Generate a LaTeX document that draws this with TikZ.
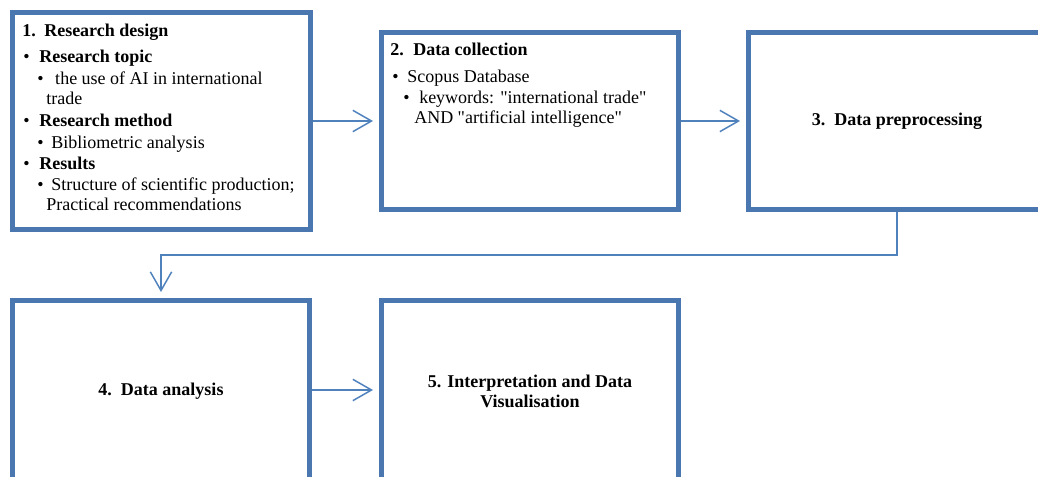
\documentclass[tikz,border=0pt]{standalone}
\usepackage{fontspec}
\setmainfont{Liberation Serif}[Ligatures=TeXOff]
\usetikzlibrary{arrows.meta}
\definecolor{boxblue}{RGB}{74,119,176}
\definecolor{linkblue}{RGB}{79,129,189}
\newdimen\px \px=0.75pt
\newcommand{\bul}[1]{\makebox[#1\px][l]{\textbullet}}

\begin{document}
\begin{tikzpicture}[x=0.75pt, y=-0.75pt,
  >={Straight Barb[length=14pt,width=16pt]},
  box/.style={draw=boxblue, line width=3.75pt, fill=white, minimum width=222.75pt,
    minimum height=132.75pt, inner sep=0pt, align=center,
    font=\bfseries\fontsize{13.5}{14.5}\selectfont},
  link/.style={->, linkblue, line width=1.1pt, shorten >=4.5pt},
  txt/.style={anchor=north west, inner sep=0pt, align=left,
    font=\fontsize{13.5}{16}\selectfont}]
\useasboundingbox (0,0) rectangle (1038,477);
% top row
\node[box, minimum width=223.5pt, minimum height=162.75pt] (design) at (161.5,121) {};
\node[box] (collect) at (530,121) {};
\node[box] (prep) at (897,121) {3.\ \ Data preprocessing};
% bottom row (runs past the lower edge)
\node[box, minimum height=136.5pt] (analysis) at (161,391.5) {4.\ \ Data analysis};
\node[box, minimum height=136.5pt] (interp) at (530,391.5) {5. Interpretation and Data\\Visualisation};
% box texts
\node[txt] (designtxt) at (22,24) {\makebox[22\px][l]{\textbf{1.}}\textbf{Research design}\\[3.5pt]
  \hspace*{1\px}\bul{16}\textbf{Research topic}\\
  \hspace*{15\px}\bul{18}the use of AI in international\\[-1pt]
  \hspace*{24\px}trade\\[1pt]
  \hspace*{1\px}\bul{16}\textbf{Research method}\\
  \hspace*{15\px}\bul{14}Bibliometric analysis\\
  \hspace*{1\px}\bul{16}\textbf{Results}\\
  \hspace*{15\px}\bul{14}Structure of scientific production;\\[-1pt]
  \hspace*{24\px}Practical recommendations};
\node[txt] (collecttxt) at (390,43) {\makebox[23\px][l]{\textbf{2.}}\textbf{Data collection}\\[4pt]
  \hspace*{2\px}\bul{15}Scopus Database\\
  \hspace*{13\px}\bul{16}keywords: "international trade"\\[-1pt]
  \hspace*{24\px}AND "artificial intelligence"};
% links
\draw[link] (design) -- (collect);
\draw[link] (collect) -- (prep);
\draw[link] (prep.south) -- ++(0,43) -| (analysis.north);
\draw[link] (analysis.east |- 0,390) -- (interp.west |- 0,390);
\end{tikzpicture}
\end{document}
